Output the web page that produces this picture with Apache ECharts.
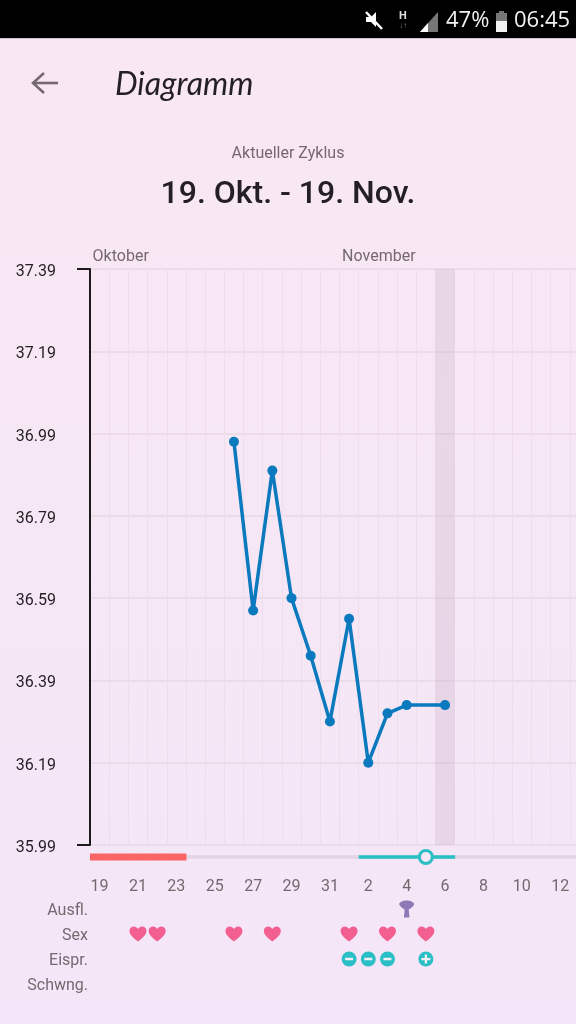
<!DOCTYPE html>
<html>
<head>
<meta charset="utf-8">
<title>Diagramm</title>
<style>
  html, body { margin: 0; padding: 0; }
  #chart { width: 576px; height: 1024px; }
</style>
<script src="https://cdn.jsdelivr.net/npm/echarts@6/dist/echarts.min.js"></script>
</head>
<body>
<div id="chart"></div>
<script>
var days = ['19', '20', '21', '22', '23', '24', '25', '26', '27', '28', '29', '30', '31',
  '1', '2', '3', '4', '5', '6', '7', '8', '9', '10', '11', '12', '13'];
var temperature = [null, null, null, null, null, null, null, 36.97, 36.56, 36.90, 36.59, 36.45, 36.29,
  36.54, 36.19, 36.31, 36.33, null, 36.33, null, null, null, null, null, null, null];
var yTicks = [35.99, 36.19, 36.39, 36.59, 36.79, 36.99, 37.19, 37.39];
var yEnds = [35.99, 37.39];
var months = [['19', 'Oktober'], ['1', 'November']];
var rowNames = ['Ausfl.', 'Sex', 'Eispr.', 'Schwng.'];
var periodDays = ['19', '20', '21', '22', '23'];
var fertileDays = ['2', '3', '4', '5', '6'];
var ovulationDays = ['5'];
var todayDays = ['6'];
var dischargeDays = ['4'];
var sexDays = ['21', '22', '26', '28', '1', '3', '5'];
var testNegativeDays = ['1', '2', '3'];
var testPositiveDays = ['5'];

var GREY = '#75686f';
var HEART = 'path://M12 21C5 15.5 1 12 1 7.2 1 3.8 3.6 1.5 6.6 1.5 8.8 1.5 10.9 2.7 12 4.8 13.1 2.7 15.2 1.5 17.4 1.5 20.4 1.5 23 3.8 23 7.2 23 12 19 15.5 12 21Z';
var FUNNEL = 'path://M1 7C3 1 21 1 23 7 23 9 19 12 15 14L16 24 8 24 9 14C5 12 1 9 1 7Z';
var PLUS = 'path://M9 0H15V9H24V15H15V24H9V15H0V9H9Z';
var GRID_WIDTH = 499;

function rowData(list, name) {
  return list.map(function (d) { return [d, name]; });
}

// grey track, period and fertile stretches are drawn per day on the phase grid
function phaseSeries(list, color, height) {
  return {
    type: 'custom',
    xAxisIndex: 2,
    yAxisIndex: 3,
    silent: true,
    data: list.map(function (d) { return [d, 0.5]; }),
    encode: { x: 0, y: 1 },
    renderItem: function (params, api) {
      var c = api.coord([api.value(0), 0.5]);
      var w = api.size([1, 0])[0];
      return {
        type: 'rect',
        shape: { x: c[0] - w / 2, y: c[1] - height / 2, width: w + 0.5, height: height },
        style: { fill: color }
      };
    }
  };
}

function rowSeries(list, name, symbol, size, color) {
  return {
    type: 'scatter',
    xAxisIndex: 1,
    yAxisIndex: 2,
    silent: true,
    symbol: symbol,
    symbolSize: size,
    itemStyle: { color: color, opacity: 1 },
    data: rowData(list, name)
  };
}

var myChart = echarts.init(document.getElementById('chart'));

var option = {
  animation: false,
  backgroundColor: new echarts.graphic.LinearGradient(0, 0, 0, 1, [
    { offset: 0, color: '#f9e8f3' },
    { offset: 1, color: '#f4e6f8' }
  ]),
  textStyle: { fontFamily: 'Roboto' },
  title: [
    { text: 'Aktueller Zyklus', left: 'center', top: 141,
      textStyle: { fontSize: 16, fontWeight: 'normal', color: GREY } },
    { text: '19. Okt. - 19. Nov.', left: 'center', top: 174,
      textStyle: { fontSize: 32, fontWeight: 500, color: '#231f24' } }
  ],
  grid: [
    { left: 90, width: GRID_WIDTH, top: 269, height: 576, outerBoundsMode: 'none' },
    { left: 90, width: GRID_WIDTH, top: 896.5, height: 100, outerBoundsMode: 'none' },
    { left: 90, width: GRID_WIDTH, top: 847, height: 20, outerBoundsMode: 'none' }
  ],
  xAxis: [
    {
      type: 'category', gridIndex: 0, data: days, boundaryGap: true,
      axisLine: { show: false }, axisTick: { show: false }, axisLabel: { show: false },
      splitLine: { show: true, interval: 0, lineStyle: { color: '#eedeeb', width: 1 } }
    },
    {
      type: 'category', gridIndex: 1, data: days, position: 'top', boundaryGap: true,
      axisLine: { show: false }, axisTick: { show: false },
      axisLabel: { interval: 1, margin: 2, fontSize: 16, color: GREY, hideOverlap: false },
      splitLine: { show: false }
    },
    {
      type: 'category', gridIndex: 2, data: days, boundaryGap: true, show: false
    }
  ],
  yAxis: [
    {
      type: 'value', gridIndex: 0, min: 35.99, max: 37.39,
      axisLine: { show: true, lineStyle: { color: '#1c1a1c', width: 2 } },
      axisTick: { show: false, customValues: yTicks },
      axisLabel: {
        customValues: yTicks, margin: 34, fontSize: 16, color: '#221e22',
        verticalAlign: 'top', lineHeight: 6,
        formatter: function (v) { return v.toFixed(2); }
      },
      splitLine: { show: true, lineStyle: { color: '#e9d7e5', width: 1.5 } }
    },
    {
      type: 'value', gridIndex: 0, min: 35.99, max: 37.39, position: 'left',
      axisLine: { show: false },
      axisTick: { show: true, customValues: yEnds, length: 13, lineStyle: { color: '#1c1a1c', width: 2 } },
      axisLabel: { show: false },
      splitLine: { show: false }
    },
    {
      type: 'category', gridIndex: 1, data: rowNames, inverse: true,
      axisLine: { show: false }, axisTick: { show: false },
      axisLabel: { margin: 2, fontSize: 16, color: GREY, verticalAlign: 'top', lineHeight: 4 },
      splitLine: { show: false }
    },
    { type: 'value', gridIndex: 2, min: 0, max: 1, show: false }
  ],
  series: [
    {
      // shaded column for the current day
      type: 'bar',
      xAxisIndex: 0,
      yAxisIndex: 0,
      silent: true,
      barWidth: '100%',
      itemStyle: { color: 'rgba(150,110,140,0.14)' },
      data: todayDays.map(function (d) { return [d, yEnds[1]]; })
    },
    {
      type: 'line',
      xAxisIndex: 0,
      yAxisIndex: 0,
      data: temperature,
      connectNulls: true,
      symbol: 'circle',
      symbolSize: 10,
      showSymbol: true,
      lineStyle: { color: '#0a79bd', width: 3.5 },
      itemStyle: { color: '#0a79bd' },
      silent: true
    },
    {
      type: 'scatter',
      xAxisIndex: 0,
      yAxisIndex: 0,
      silent: true,
      clip: false,
      symbolSize: 0,
      itemStyle: { opacity: 1 },
      data: months.map(function (m) { return { value: [m[0], yEnds[1]], name: m[1] }; }),
      label: {
        show: true, position: 'right', offset: [-7, -12], distance: 0, fontSize: 16, color: GREY,
        formatter: function (p) { return p.name; }
      }
    },
    phaseSeries(days, '#e4d4e3', 3.5),
    phaseSeries(periodDays, '#fb6464', 7),
    phaseSeries(fertileDays, '#2abfc4', 3.5),
    {
      type: 'scatter',
      xAxisIndex: 2,
      yAxisIndex: 3,
      silent: true,
      symbol: 'circle',
      symbolSize: 13,
      itemStyle: { color: '#f6e8f6', borderColor: '#2abfc4', borderWidth: 3, opacity: 1 },
      data: ovulationDays.map(function (d) { return [d, 0.5]; })
    },
    rowSeries(dischargeDays, 'Ausfl.', FUNNEL, [15, 17], '#8f78b8'),
    rowSeries(sexDays, 'Sex', HEART, [17, 15], '#f45f92'),
    rowSeries(testNegativeDays, 'Eispr.', 'circle', 15, '#2abfc4'),
    rowSeries(testPositiveDays, 'Eispr.', 'circle', 15, '#2abfc4'),
    rowSeries(testNegativeDays, 'Eispr.', 'rect', [8, 2.5], '#f4f0f6'),
    rowSeries(testPositiveDays, 'Eispr.', PLUS, 9, '#f4f0f6')
  ],
  graphic: [
    // status bar
    { type: 'rect', shape: { x: 0, y: 0, width: 576, height: 38 }, style: { fill: '#000' } },
    { type: 'rect', shape: { x: 0, y: 38, width: 576, height: 1 }, style: { fill: '#c9bcc6' } },
    { type: 'polygon', shape: { points: [[366, 17], [371, 17], [376, 12], [376, 27], [371, 22], [366, 22]] },
      style: { fill: '#fff' } },
    { type: 'line', shape: { x1: 366, y1: 12, x2: 382, y2: 29 }, style: { stroke: '#fff', lineWidth: 2.5 } },
    { type: 'text', style: { x: 399, y: 11, text: 'H', fill: '#e0e0e0', font: 'bold 11px Roboto' } },
    { type: 'text', style: { x: 399, y: 22, text: '↓↑', fill: '#777', font: '8px Roboto' } },
    { type: 'polygon', shape: { points: [[420, 32], [438, 12], [438, 32]] }, style: { fill: '#777' } },
    { type: 'polygon', shape: { points: [[420, 32], [428, 23], [428, 32]] }, style: { fill: '#fff' } },
    { type: 'text', style: { x: 446, y: 10, text: '47%', fill: '#f2f2f2', font: '22px "Open Sans"' } },
    { type: 'rect', shape: { x: 496, y: 13, width: 11, height: 19 }, style: { fill: '#777' } },
    { type: 'rect', shape: { x: 499, y: 11, width: 5, height: 2 }, style: { fill: '#777' } },
    { type: 'rect', shape: { x: 496, y: 21, width: 11, height: 11 }, style: { fill: '#f2f2f2' } },
    { type: 'text', style: { x: 514, y: 10, text: '06:45', fill: '#f2f2f2', font: '22px "Open Sans"' } },
    // app bar
    { type: 'polyline', shape: { points: [[44, 73], [33, 83], [44, 93]] },
      style: { stroke: GREY, fill: null, lineWidth: 2.6 } },
    { type: 'line', shape: { x1: 33, y1: 83, x2: 58, y2: 83 }, style: { stroke: GREY, lineWidth: 2.6 } },
    { type: 'text', style: { x: 115, y: 69, text: 'Diagramm', fill: '#231f24', font: 'italic 32px Lato' } }
  ]
};

myChart.setOption(option);
</script>
</body>
</html>
